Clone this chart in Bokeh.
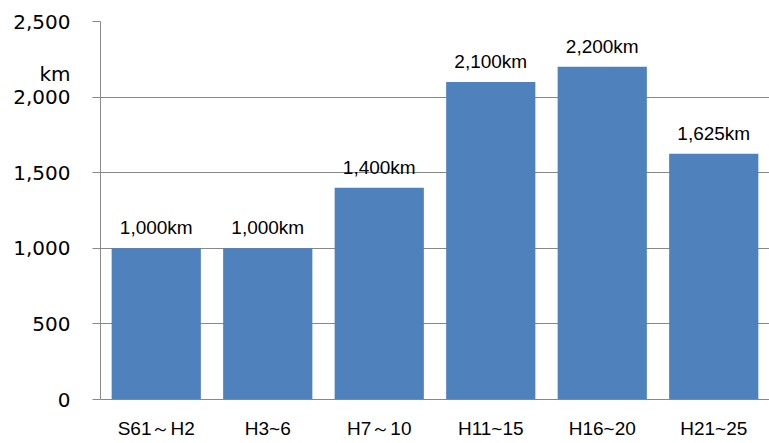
from bokeh.plotting import figure
from bokeh.models import ColumnDataSource, NumeralTickFormatter, FixedTicker, Range1d, LinearAxis
from bokeh.core.properties import value
from bokeh.embed import file_html
from bokeh.resources import INLINE

categories = ["S61～H2", "H3~6", "H7～10", "H11~15", "H16~20", "H21~25"]
values = [1000, 1000, 1400, 2100, 2200, 1625]
bar_labels = ["1,000km", "1,000km", "1,400km", "2,100km", "2,200km", "1,625km"]
y_ticks = [0, 500, 1000, 1500, 2000, 2500]
unit_label = "km"
unit_label_pos = 2150

FONT = "Liberation Sans"
YFONT = "DejaVu Sans"

src = ColumnDataSource(dict(cat=categories, val=values, lab=bar_labels))

p = figure(x_range=categories, y_range=Range1d(0, 2500), width=769, height=443,
           output_backend="svg", toolbar_location=None,
           min_border_left=100, min_border_right=0, min_border_top=21, min_border_bottom=44)
p.outline_line_color = None
p.background_fill_color = "white"

p.vbar(x="cat", top="val", width=0.8, source=src, color="#4F81BD", line_color=None)
p.text(x="cat", y="val", text="lab", source=src, text_align="center", text_baseline="bottom",
       y_offset=-10, text_font=value(FONT), text_font_size="19px", text_color="#000000")

# inner axis: line and tick marks only
p.yaxis.ticker = FixedTicker(ticks=y_ticks)
p.yaxis.major_label_overrides = {t: "" for t in y_ticks}
p.yaxis.major_tick_out = 8
p.yaxis.major_tick_in = 0
p.yaxis.minor_tick_out = 0
p.yaxis.minor_tick_in = 0
p.yaxis.major_label_standoff = 0
p.yaxis.axis_line_color = "#888888"
p.yaxis.major_tick_line_color = "#888888"

# outer axis: tick labels plus the unit label
lab_axis = LinearAxis(ticker=FixedTicker(ticks=y_ticks + [unit_label_pos]),
                      formatter=NumeralTickFormatter(format="0,0"))
lab_axis.major_label_overrides = {unit_label_pos: unit_label}
lab_axis.axis_line_color = None
lab_axis.major_tick_line_color = None
lab_axis.minor_tick_line_color = None
lab_axis.major_tick_out = 0
lab_axis.major_tick_in = 0
lab_axis.minor_tick_out = 0
lab_axis.minor_tick_in = 0
lab_axis.major_label_standoff = 22
lab_axis.major_label_text_font = YFONT
lab_axis.major_label_text_font_size = "20px"
lab_axis.major_label_text_color = "#000000"
p.add_layout(lab_axis, "left")

p.xaxis.major_label_text_font = FONT
p.xaxis.major_label_text_font_size = "19px"
p.xaxis.major_label_text_color = "#000000"
p.xaxis.major_tick_line_color = None
p.xaxis.major_tick_out = 0
p.xaxis.major_label_standoff = 18
p.xaxis.axis_line_color = "#888888"

p.xgrid.grid_line_color = None
p.ygrid.grid_line_color = "#888888"
p.ygrid.grid_line_width = 1
p.ygrid.ticker = FixedTicker(ticks=y_ticks)

open("out.html", "w").write(file_html(p, INLINE))
